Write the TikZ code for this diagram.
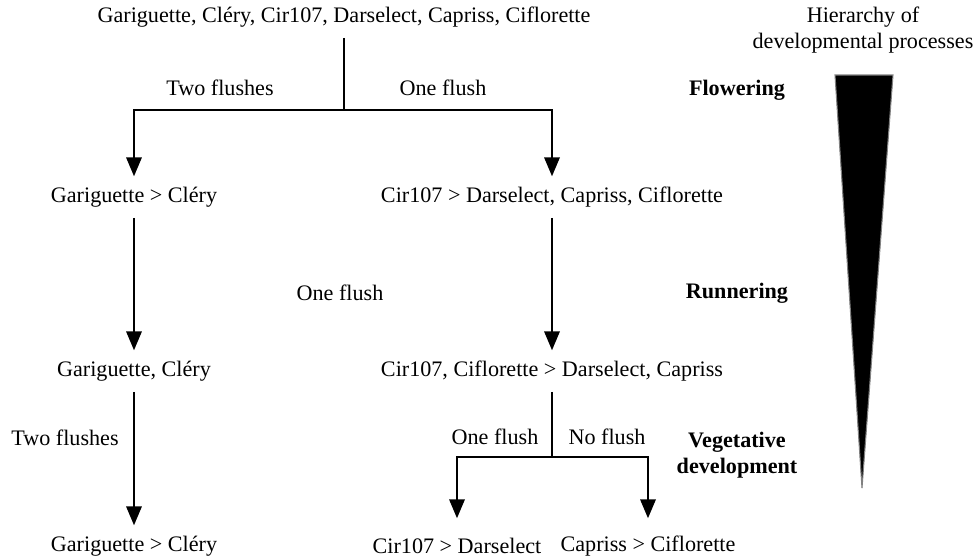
\documentclass[tikz,border=0pt]{standalone}
\usepackage{fontspec}
\setmainfont{Liberation Serif}
\usetikzlibrary{arrows}
\begin{document}
\begin{tikzpicture}[x=0.02cm,y=-0.02cm,>=triangle 45,line width=1.5pt,
    every node/.style={font=\fontsize{12.6}{15}\selectfont},
    cultivar/.style={minimum height=0.78cm,inner sep=0pt},
    stage/.style={font=\fontsize{12.6}{15}\selectfont\bfseries,align=center}]
      \useasboundingbox (0,0) rectangle (975,559);
      \node[cultivar] (all) at (344,17) {Gariguette, Cléry, Cir107, Darselect, Capriss, Ciflorette};
      \node[cultivar] (gc1) at (134,197) {Gariguette > Cléry};
      \node[cultivar] (cir1) at (552,197) {Cir107 > Darselect, Capriss, Ciflorette};
      \node[cultivar] (gc2) at (134,371) {Gariguette, Cléry};
      \node[cultivar] (cir2) at (552,371) {Cir107, Ciflorette > Darselect, Capriss};
      \node[cultivar] (gc3) at (134,546) {Gariguette > Cléry};
      \node[cultivar] (cd) at (457,546) {Cir107 > Darselect};
      \node[cultivar] (cc) at (648,546) {Capriss > Ciflorette};
      \coordinate (fsplit) at (344,110);
      \coordinate (vsplit) at (552,457);
      \draw (all) -- (fsplit);
      \draw[->] (fsplit) -| (gc1);
      \draw[->] (fsplit) -| (cir1);
      \draw[->] (gc1) -- (gc2);
      \draw[->] (cir1) -- (cir2);
      \draw[->] (gc2) -- (gc3);
      \draw (cir2) -- (vsplit);
      \draw[->,shorten >=4pt] (vsplit) -| (cd);
      \draw[->,shorten >=4pt] (vsplit) -| (cc);
      \node (twofl) at (220,88) {Two flushes};
      \node (onefl) at (443,88) {One flush};
      \node (onefl2) at (340,293) {One flush};
      \node (twofl2) at (65,438) {Two flushes};
      \node (onefl3) at (495,437) {One flush};
      \node (nofl) at (607,437) {No flush};
      \node[stage] (flower) at (737,90) {Flowering};
      \node[stage] (runner) at (737,293) {Runnering};
      \node[stage] (veget) at (737,455) {Vegetative\\development};
      \node[align=center] (hier) at (863,30) {Hierarchy of\\developmental processes};
      \draw[fill=black,draw=gray,line width=0.6pt] (835,75) -- (893,75) -- (862,488) -- cycle;
    \end{tikzpicture}
\end{document}
